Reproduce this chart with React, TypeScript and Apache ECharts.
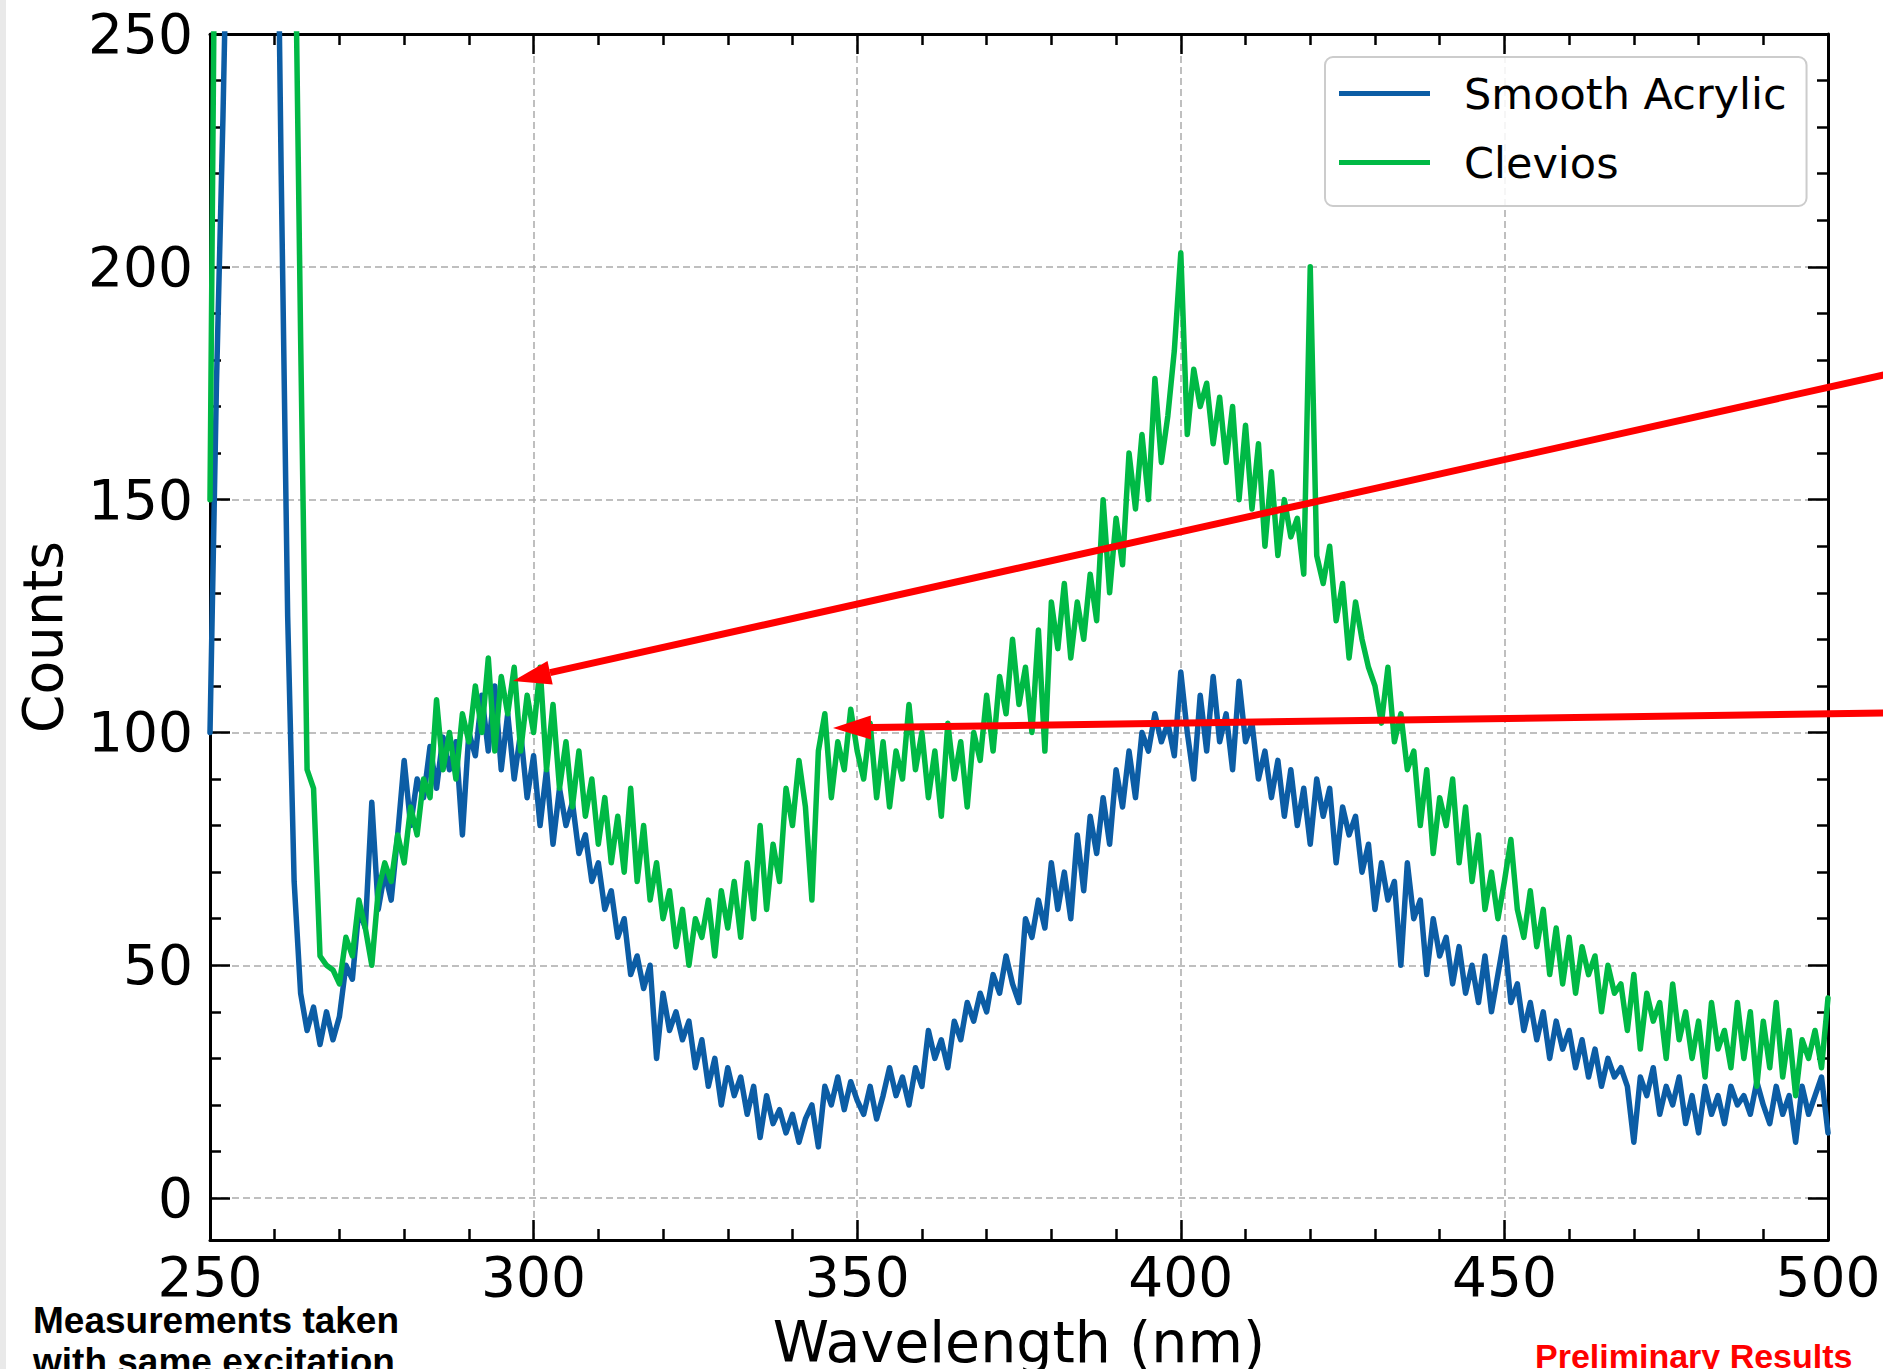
import React, { useEffect, useRef } from "react";
import * as echarts from "echarts";

// Wavelength grid (nm): first sample and step
const WAVELENGTH_START = 250;
const WAVELENGTH_STEP = 1;

// Smooth Acrylic counts, 1 nm apart
const acrylic250to299 = [
  100, 175, 232, 300, 400, 450, 480, 490, 470, 420,
  330, 220, 125, 68, 44, 36, 41, 33, 40, 34,
  39, 50, 47, 62, 58, 85, 62, 70, 64, 78,
  94, 80, 90, 86, 97, 88, 99, 92, 98, 78,
  100, 95, 108, 96, 110, 92, 104, 90, 100, 86,
];
const acrylic300to349 = [
  95, 80, 92, 76, 88, 80, 85, 74, 78, 68,
  72, 62, 66, 56, 60, 48, 52, 45, 50, 30,
  44, 36, 40, 34, 38, 28, 34, 24, 30, 20,
  28, 22, 26, 18, 24, 13, 22, 16, 19, 14,
  18, 12, 17, 20, 11, 24, 20, 26, 19, 25,
];
const acrylic350to399 = [
  21, 18, 24, 17, 22, 28, 22, 26, 20, 28,
  24, 36, 30, 34, 28, 38, 34, 42, 38, 44,
  40, 48, 44, 52, 46, 42, 60, 56, 64, 58,
  72, 62, 70, 60, 78, 66, 82, 74, 86, 76,
  92, 84, 96, 86, 100, 96, 104, 98, 102, 95,
];
const acrylic400to449 = [
  113, 100, 90, 108, 96, 112, 98, 104, 92, 111,
  98, 102, 90, 96, 86, 94, 82, 92, 80, 88,
  76, 90, 82, 88, 72, 84, 78, 82, 70, 76,
  62, 72, 64, 68, 50, 72, 60, 64, 48, 60,
  52, 56, 46, 54, 44, 50, 42, 52, 40, 48,
];
const acrylic450to500 = [
  56, 42, 46, 36, 42, 34, 40, 30, 38, 32,
  36, 28, 34, 26, 32, 24, 30, 26, 28, 24,
  12, 26, 22, 28, 18, 24, 20, 26, 16, 22,
  14, 24, 18, 22, 16, 24, 20, 22, 18, 25,
  20, 16, 24, 18, 22, 12, 24, 18, 22, 26, 14,
];

// Clevios counts, 1 nm apart
const clevios250to299 = [
  150, 320, 500, 600, 650, 700, 720, 700, 680, 640,
  600, 520, 420, 290, 185, 92, 88, 52, 50, 49,
  46, 56, 52, 64, 58, 50, 66, 72, 68, 78,
  72, 84, 78, 90, 86, 107, 92, 100, 90, 104,
  98, 110, 100, 116, 96, 112, 104, 114, 96, 108,
];
const clevios300to349 = [
  100, 114, 92, 106, 88, 98, 84, 96, 82, 90,
  76, 86, 72, 82, 70, 88, 68, 80, 64, 72,
  60, 66, 54, 62, 50, 60, 56, 64, 52, 66,
  58, 68, 56, 72, 60, 80, 62, 76, 68, 88,
  80, 94, 84, 64, 96, 104, 86, 98, 92, 105,
];
const clevios350to399 = [
  96, 90, 102, 86, 98, 84, 96, 90, 106, 92,
  100, 86, 96, 82, 102, 90, 98, 84, 100, 94,
  108, 96, 112, 104, 120, 106, 114, 100, 122, 96,
  128, 118, 132, 116, 128, 120, 134, 124, 150, 130,
  146, 136, 160, 148, 164, 150, 176, 158, 168, 182,
];
const clevios400to449 = [
  203, 164, 178, 170, 175, 162, 172, 158, 170, 150,
  166, 148, 162, 140, 156, 138, 150, 142, 146, 134,
  200, 138, 132, 140, 124, 132, 116, 128, 120, 114,
  110, 102, 114, 98, 104, 92, 96, 80, 92, 74,
  86, 80, 90, 72, 84, 68, 78, 62, 70, 60,
];
const clevios450to500 = [
  68, 77, 62, 56, 66, 54, 62, 48, 58, 46,
  56, 44, 54, 48, 52, 40, 50, 44, 46, 36,
  48, 32, 44, 38, 42, 30, 46, 34, 40, 30,
  38, 26, 42, 32, 36, 28, 42, 30, 40, 24,
  38, 28, 42, 26, 36, 22, 34, 30, 36, 28, 43,
];

const SERIES_NAMES = ["Smooth Acrylic", "Clevios"];
const X_MIN = 250;
const X_MAX = 500;
const X_INTERVAL = 50;
const Y_MIN = -9;
const Y_MAX = 250;
const Y_MAJOR_TICKS = [0, 50, 100, 150, 200, 250];
const Y_MINOR_TICKS = [
  10, 20, 30, 40, 60, 70, 80, 90, 110, 120, 130, 140, 160, 170, 180, 190, 210,
  220, 230, 240,
];

const acrylicValues = [
  ...acrylic250to299,
  ...acrylic300to349,
  ...acrylic350to399,
  ...acrylic400to449,
  ...acrylic450to500,
];
const cleviosValues = [
  ...clevios250to299,
  ...clevios300to349,
  ...clevios350to399,
  ...clevios400to449,
  ...clevios450to500,
];

const toPairs = (vals: number[]) =>
  vals.map((v, i) => [WAVELENGTH_START + i * WAVELENGTH_STEP, v]);

const FONT = '"DejaVu Sans", sans-serif';
const BOLD_FONT = '"Liberation Sans", Arial, sans-serif';
const BLACK = "#000000";

export default function App() {
  const ref = useRef<HTMLDivElement>(null);

  useEffect(() => {
    if (!ref.current) return;
    const chart = echarts.init(ref.current, null, { renderer: "svg" });

    const tickStyle = { color: BLACK, width: 2.5 };
    const axisLineStyle = { color: BLACK, width: 3 };
    const gridStyle = { color: "#aaaaaa", width: 1.5, type: [7, 4] as any };
    const MAJOR_LEN = 20;
    const MINOR_LEN = 11;

    const yBase = { type: "value" as const, min: Y_MIN, max: Y_MAX };
    const xBase = {
      type: "value" as const,
      min: X_MIN,
      max: X_MAX,
      interval: X_INTERVAL,
    };

    const option: any = {
      animation: false,
      backgroundColor: "#ffffff",
      grid: {
        left: 210,
        right: 55,
        top: 34,
        bottom: 129,
        containLabel: false,
        outerBoundsMode: "none",
      },
      legend: {
        data: SERIES_NAMES,
        orient: "vertical",
        left: 1325,
        top: 57,
        padding: [15, 20, 22, 14],
        itemGap: 26,
        itemWidth: 91,
        itemHeight: 5,
        icon: "rect",
        backgroundColor: "rgba(255,255,255,0.85)",
        borderColor: "#cccccc",
        borderWidth: 2,
        borderRadius: 8,
        textStyle: {
          fontSize: 43,
          fontFamily: FONT,
          color: BLACK,
          lineHeight: 43,
          padding: [0, 0, 0, 29],
        },
      },
      xAxis: [
        {
          ...xBase,
          position: "bottom",
          name: "Wavelength (nm)",
          nameLocation: "middle",
          nameGap: 73,
          nameTextStyle: { fontSize: 57, fontFamily: FONT, color: BLACK },
          axisLine: { show: true, onZero: false, lineStyle: axisLineStyle },
          axisTick: { show: true, inside: true, length: MAJOR_LEN, lineStyle: tickStyle },
          minorTick: { show: true, splitNumber: 5, length: MINOR_LEN, lineStyle: tickStyle },
          axisLabel: {
            show: true,
            fontSize: 55,
            fontFamily: FONT,
            color: BLACK,
            margin: 9,
          },
          splitLine: { show: true, lineStyle: gridStyle },
        },
        {
          ...xBase,
          position: "top",
          axisLine: { show: true, onZero: false, lineStyle: axisLineStyle },
          axisTick: { show: true, inside: true, length: MAJOR_LEN, lineStyle: tickStyle },
          minorTick: { show: true, splitNumber: 5, length: MINOR_LEN, lineStyle: tickStyle },
          axisLabel: { show: false },
          splitLine: { show: false },
        },
      ],
      yAxis: [
        {
          ...yBase,
          position: "left",
          name: "Counts",
          nameLocation: "middle",
          nameGap: 140,
          nameTextStyle: { fontSize: 55, fontFamily: FONT, color: BLACK },
          axisLine: { show: true, onZero: false, lineStyle: axisLineStyle },
          axisTick: {
            show: true,
            inside: true,
            length: MAJOR_LEN,
            lineStyle: tickStyle,
            customValues: Y_MAJOR_TICKS,
          },
          axisLabel: {
            show: true,
            customValues: Y_MAJOR_TICKS,
            fontSize: 55,
            fontFamily: FONT,
            color: BLACK,
            margin: 17,
          },
          splitLine: { show: true, lineStyle: gridStyle },
        },
        {
          ...yBase,
          position: "left",
          axisLine: { show: false, onZero: false },
          axisTick: {
            show: true,
            inside: true,
            length: MINOR_LEN,
            lineStyle: tickStyle,
            customValues: Y_MINOR_TICKS,
          },
          axisLabel: { show: false },
          splitLine: { show: false },
        },
        {
          ...yBase,
          position: "right",
          axisLine: { show: true, onZero: false, lineStyle: axisLineStyle },
          axisTick: {
            show: true,
            inside: true,
            length: MAJOR_LEN,
            lineStyle: tickStyle,
            customValues: Y_MAJOR_TICKS,
          },
          axisLabel: { show: false },
          splitLine: { show: false },
        },
        {
          ...yBase,
          position: "right",
          axisLine: { show: false, onZero: false },
          axisTick: {
            show: true,
            inside: true,
            length: MINOR_LEN,
            lineStyle: tickStyle,
            customValues: Y_MINOR_TICKS,
          },
          axisLabel: { show: false },
          splitLine: { show: false },
        },
      ],
      series: [
        {
          name: SERIES_NAMES[0],
          type: "line",
          xAxisIndex: 0,
          yAxisIndex: 0,
          data: toPairs(acrylicValues),
          showSymbol: false,
          clip: true,
          color: "#0C5DA5",
          lineStyle: { color: "#0C5DA5", width: 5.5, cap: "round", join: "round" },
          z: 2,
        },
        {
          name: SERIES_NAMES[1],
          type: "line",
          xAxisIndex: 0,
          yAxisIndex: 0,
          data: toPairs(cleviosValues),
          showSymbol: false,
          clip: true,
          color: "#00B945",
          lineStyle: { color: "#00B945", width: 5.5, cap: "round", join: "round" },
          z: 3,
        },
      ],
      graphic: {
        elements: [
          {
            type: "rect",
            shape: { x: 0, y: 0, width: 6, height: 1369 },
            style: { fill: "#e9e9e9" },
            z: 0,
            silent: true,
          },
          {
            type: "line",
            shape: { x1: 1890, y1: 373.5, x2: 550, y2: 672.7 },
            style: { stroke: "#ff0000", lineWidth: 7 },
            z: 100,
          },
          {
            type: "polygon",
            shape: {
              points: [
                [513, 681],
                [552.7, 684.4],
                [547.5, 661.0],
              ],
            },
            style: { fill: "#ff0000" },
            z: 100,
          },
          {
            type: "line",
            shape: { x1: 1890, y1: 713, x2: 871, y2: 727.5 },
            style: { stroke: "#ff0000", lineWidth: 7 },
            z: 100,
          },
          {
            type: "polygon",
            shape: {
              points: [
                [833, 728],
                [871.2, 739.5],
                [870.8, 715.5],
              ],
            },
            style: { fill: "#ff0000" },
            z: 100,
          },
          {
            type: "text",
            x: 33,
            y: 1320,
            style: {
              text: "Measurements taken",
              font: `bold 37px ${BOLD_FONT}`,
              fill: BLACK,
              align: "left",
              verticalAlign: "middle",
            },
            z: 100,
          },
          {
            type: "text",
            x: 33,
            y: 1361,
            style: {
              text: "with same excitation",
              font: `bold 37px ${BOLD_FONT}`,
              fill: BLACK,
              align: "left",
              verticalAlign: "middle",
            },
            z: 100,
          },
          {
            type: "text",
            x: 1535,
            y: 1356,
            style: {
              text: "Preliminary Results",
              font: `bold 34px ${BOLD_FONT}`,
              fill: "#ff0000",
              align: "left",
              verticalAlign: "middle",
            },
            z: 100,
          },
        ],
      },
    };

    chart.setOption(option);
    return () => {
      chart.dispose();
    };
  }, []);

  return (
    <div
      ref={ref}
      style={{
        position: "fixed",
        left: 0,
        top: 0,
        width: 1883,
        height: 1369,
        background: "#ffffff",
      }}
    />
  );
}
